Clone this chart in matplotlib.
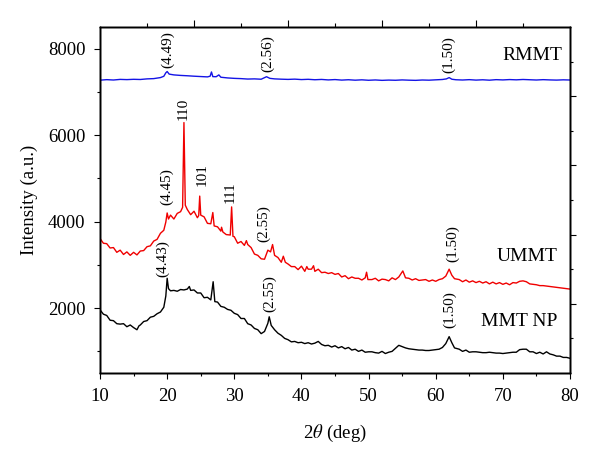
import matplotlib
matplotlib.use("Agg")
import matplotlib.pyplot as plt

plt.rcParams['font.family'] = ['Liberation Serif', 'DejaVu Serif']
plt.rcParams['mathtext.fontset'] = 'stix'

# --- XRD patterns (2theta in deg, intensity in a.u.) ---
rmmt_2t = [10, 11, 12, 13, 14, 15, 16, 17, 18, 19, 19.5, 19.8, 20.0, 20.3, 21, 22,
           23, 24, 25, 26, 26.4, 26.6, 26.8, 27.3, 27.7, 28.0, 29, 30, 31, 32, 33,
           34, 34.8, 35.3, 36, 37, 38, 39, 40, 41, 42, 43, 44, 45, 46, 47, 48, 49,
           50, 51, 52, 53, 54, 55, 56, 57, 58, 59, 60, 61, 61.6, 62.0, 62.4, 63, 64,
           65, 66, 67, 68, 69, 70, 71, 72, 73, 74, 75, 76, 77, 78, 79, 80]
rmmt_int = [7270, 7282, 7274, 7288, 7283, 7290, 7286, 7300, 7306, 7330, 7360, 7440,
            7470, 7410, 7392, 7380, 7372, 7362, 7354, 7346, 7362, 7460, 7352, 7350,
            7392, 7338, 7322, 7312, 7306, 7296, 7300, 7292, 7350, 7312, 7300, 7293,
            7288, 7294, 7284, 7290, 7280, 7287, 7276, 7284, 7272, 7280, 7270, 7278,
            7268, 7275, 7266, 7272, 7268, 7276, 7270, 7266, 7274, 7270, 7278, 7286,
            7300, 7330, 7292, 7280, 7274, 7282, 7272, 7279, 7270, 7282, 7276, 7284,
            7278, 7286, 7280, 7274, 7282, 7276, 7272, 7278, 7274]

ummt_2t = [10.0, 10.5, 11.0, 11.5, 12.0, 12.5, 13.0, 13.5, 14.0, 14.5, 15.0, 15.5,
           16.0, 16.5, 17.0, 17.5, 18.0, 18.5, 19.0, 19.5, 19.8, 20.0, 20.2, 20.5,
           21.0, 21.5, 22.0, 22.3, 22.5, 22.7, 23.0, 23.5, 24.0, 24.5, 24.7, 24.85,
           25.0, 25.5, 26.0, 26.5, 26.8, 27.0, 27.5, 28.0, 28.1, 28.3, 28.8, 29.4,
           29.6, 29.8, 30.0, 30.5, 31.0, 31.5, 31.8, 32.0, 32.5, 33.0, 33.5, 34.0,
           34.5, 35.0, 35.4, 35.7, 36.0, 36.5, 37.0, 37.3, 37.6, 38.0, 38.5, 39.0,
           39.5, 40.0, 40.5, 40.8, 41.0, 41.5, 41.8, 42.0, 42.5, 43.0, 43.5, 44.0,
           44.5, 45.0, 45.5, 46.0, 46.5, 47.0, 47.5, 48.0, 48.5, 49.0, 49.5, 49.7,
           49.9, 50.5, 51.0, 51.5, 52.0, 52.5, 53.0, 53.5, 54.0, 54.5, 55.1, 55.5,
           56.0, 56.5, 57.0, 57.5, 58.0, 58.5, 59.0, 59.5, 60.0, 60.5, 61.0, 61.5,
           62.0, 62.4, 62.8, 63.5, 64.0, 64.5, 65.0, 65.5, 66.0, 66.5, 67.0, 67.5,
           68.0, 68.5, 69.0, 69.5, 70.0, 70.5, 71.0, 71.5, 72.0, 72.5, 73.0, 73.5,
           74.0, 74.5, 75.0, 75.5, 76.0, 76.5, 77.0, 77.5, 78.0, 78.5, 79.0, 79.5,
           80.0]
ummt_int = [3610, 3500, 3490, 3390, 3400, 3290, 3340, 3240, 3300, 3220, 3290, 3230,
            3320, 3330, 3420, 3440, 3550, 3590, 3730, 3800, 3990, 4200, 4060, 4150,
            4060, 4190, 4230, 4330, 6290, 4380, 4280, 4160, 4240, 4090, 4140, 4590,
            4150, 4110, 3960, 3950, 4210, 3900, 3880, 3780, 3870, 3760, 3700, 3690,
            4340, 3660, 3650, 3500, 3540, 3450, 3560, 3470, 3400, 3250, 3220, 3140,
            3130, 3340, 3300, 3470, 3220, 3170, 3060, 3200, 3060, 3020, 2960, 2960,
            2890, 2970, 2850, 2960, 2900, 2900, 2980, 2850, 2900, 2820, 2830, 2800,
            2820, 2780, 2800, 2720, 2750, 2680, 2720, 2690, 2690, 2650, 2700, 2830,
            2660, 2660, 2690, 2630, 2670, 2660, 2630, 2700, 2660, 2720, 2860, 2700,
            2690, 2650, 2680, 2640, 2650, 2660, 2620, 2650, 2620, 2660, 2680, 2740,
            2900, 2760, 2680, 2660, 2610, 2650, 2600, 2630, 2590, 2620, 2580, 2610,
            2560, 2600, 2560, 2590, 2550, 2580, 2540, 2590, 2580, 2620, 2630, 2610,
            2560, 2550, 2540, 2520, 2520, 2510, 2500, 2490, 2480, 2470, 2460, 2450,
            2440]

mmt_2t = [10.0, 10.5, 11.0, 11.5, 12.0, 12.5, 13.0, 13.5, 14.0, 14.5, 15.0, 15.5,
          15.8, 16.0, 16.5, 17.0, 17.5, 18.0, 18.5, 19.0, 19.5, 19.8, 20.0, 20.2,
          20.5, 21.0, 21.5, 22.0, 22.5, 23.0, 23.3, 23.5, 24.0, 24.5, 25.0, 25.5,
          26.0, 26.5, 26.85, 27.1, 27.5, 28.0, 28.5, 29.0, 29.5, 30.0, 30.5, 31.0,
          31.5, 32.0, 32.5, 33.0, 33.5, 34.0, 34.5, 35.0, 35.2, 35.5, 36.0, 36.5,
          37.0, 37.5, 38.0, 38.5, 39.0, 39.5, 40.0, 40.5, 41.0, 41.5, 42.0, 42.5,
          43.0, 43.5, 44.0, 44.5, 45.0, 45.5, 46.0, 46.5, 47.0, 47.5, 48.0, 48.5,
          49.0, 49.5, 50.0, 50.5, 51.0, 51.5, 52.0, 52.5, 53.0, 53.5, 54.0, 54.5,
          55.0, 55.5, 56.0, 56.5, 57.0, 57.5, 58.0, 58.5, 59.0, 59.5, 60.0, 60.5,
          61.0, 61.5, 62.0, 62.4, 62.8, 63.5, 64.0, 64.5, 65.0, 65.5, 66.0, 66.5,
          67.0, 67.5, 68.0, 68.5, 69.0, 69.5, 70.0, 70.5, 71.0, 71.5, 72.0, 72.5,
          73.0, 73.5, 74.0, 74.5, 75.0, 75.5, 76.0, 76.5, 77.0, 77.5, 78.0, 78.5,
          79.0, 79.5, 80.0]
mmt_int = [1960, 1860, 1830, 1720, 1710, 1640, 1630, 1640, 1570, 1610, 1550, 1500,
           1590, 1610, 1690, 1710, 1790, 1810, 1870, 1910, 2020, 2280, 2690, 2450,
           2400, 2410, 2390, 2430, 2420, 2440, 2500, 2410, 2420, 2350, 2350, 2240,
           2250, 2190, 2610, 2150, 2140, 2040, 2020, 1970, 1950, 1880, 1850, 1760,
           1760, 1640, 1610, 1530, 1500, 1410, 1460, 1650, 1800, 1600, 1500, 1420,
           1370, 1300, 1270, 1220, 1230, 1200, 1210, 1180, 1200, 1170, 1190, 1230,
           1160, 1130, 1140, 1100, 1130, 1080, 1110, 1060, 1090, 1030, 1050, 1000,
           1030, 980, 990, 990, 970, 960, 1000, 950, 980, 1000, 1070, 1140,
           1110, 1080, 1060, 1050, 1040, 1030, 1030, 1020, 1020, 1030, 1040, 1050,
           1090, 1180, 1340, 1200, 1080, 1050, 1000, 1030, 980, 990, 990, 980,
           970, 970, 980, 970, 960, 960, 950, 960, 970, 980, 980, 1040,
           1050, 1050, 990, 990, 950, 980, 940, 990, 940, 920, 890, 890,
           860, 860, 840]

# peak annotations: (2theta, intensity at text bottom, text)
peak_labels = [(20.0, 7560, '(4.49)'), (34.9, 7450, '(2.56)'), (61.9, 7430, '(1.50)'),
               (22.4, 6360, '110'), (19.9, 4380, '(4.45)'), (25.2, 4820, '101'),
               (29.4, 4420, '111'), (34.4, 3530, '(2.55)'), (62.5, 3070, '(1.50)'),
               (19.4, 2720, '(4.43)'), (35.3, 1910, '(2.55)'), (62.1, 1530, '(1.50)')]
sample_names = ['RMMT', 'UMMT', 'MMT NP']
name_pos = [(78.8, 7840), (78.1, 3190), (78.1, 1690)]

fig = plt.figure(figsize=(6, 4.58), dpi=100)
ax = fig.add_axes([0.1667, 0.1856, 0.7833, 0.7555])

ax.plot(rmmt_2t, rmmt_int, color='#1414e6', lw=1.0)
ax.plot(ummt_2t, ummt_int, color='#f00000', lw=1.0)
ax.plot(mmt_2t, mmt_int, color='black', lw=1.0)

for x, y, s in peak_labels:
    ax.text(x, y, s, rotation=90, ha='center', va='bottom', fontsize=11)
for (x, y), s in zip(name_pos, sample_names):
    ax.text(x, y, s, ha='right', va='center', fontsize=14)

ax.set_xlim(10, 80)
ax.set_ylim(500, 8500)
ax.set_xticks(range(10, 81, 10))
ax.set_xticks(range(15, 80, 10), minor=True)
ax.set_yticks([2000, 4000, 6000, 8000])
ax.set_yticks([1000, 3000, 5000, 7000], minor=True)
ax.tick_params(which='major', direction='out', length=4.5, width=0.8, labelsize=13.5, pad=6)
ax.tick_params(which='minor', direction='out', length=2.5, width=0.8)
ax.set_xlabel(r'2$\theta$ (deg)', fontsize=13.5)
ax.set_ylabel('Intensity (a.u.)', fontsize=13.5)
ax.xaxis.set_label_coords(0.5, -0.145)
ax.yaxis.set_label_coords(-0.132, 0.5)

# Origin-style extra ticks on top and right (independent scales, no labels)
axt = ax.twiny()
axt.set_xlim(0, 10)
axt.set_xticks([2, 4, 6, 8])
axt.set_xticks([1, 3, 5, 7, 9], minor=True)
axt.set_xticklabels([])
axt.tick_params(which='major', direction='out', length=5, width=0.8)
axt.tick_params(which='minor', direction='out', length=3, width=0.8)

axr = ax.twinx()
axr.set_ylim(0, 10)
axr.set_yticks([2, 4, 6, 8])
axr.set_yticks([1, 3, 5, 7, 9], minor=True)
axr.set_yticklabels([])
axr.tick_params(which='major', direction='out', length=4.5, width=0.8)
axr.tick_params(which='minor', direction='out', length=2.5, width=0.8)

for a in (ax, axt, axr):
    for sp in a.spines.values():
        sp.set_linewidth(1.0)

fig.savefig('out.png', dpi=100)
